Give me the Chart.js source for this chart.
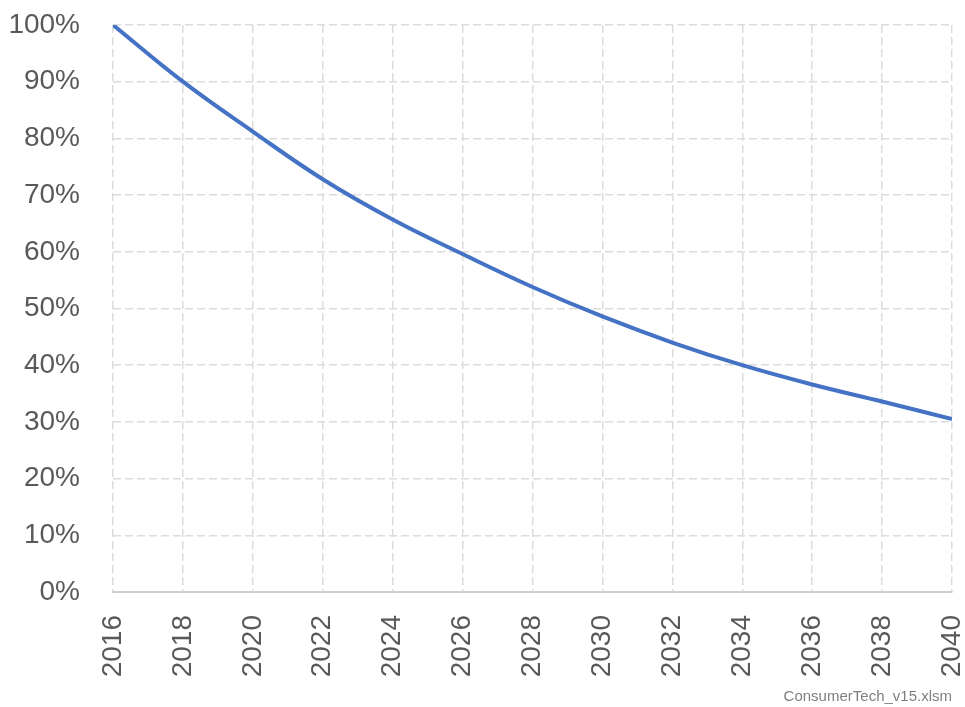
<!DOCTYPE html>
<html>
<head>
<meta charset="utf-8">
<script src="https://cdn.jsdelivr.net/npm/chart.js@4/dist/chart.umd.min.js"></script>
<style>
  html, body { margin: 0; padding: 0; background: #ffffff; }
  #wrap { position: relative; width: 965px; height: 707px; }
  #note { position: absolute; right: 13px; top: 687px; font-family: "Liberation Sans", Arial, sans-serif; font-size: 15px; color: #7f7f7f; }
</style>
</head>
<body>
<div id="wrap">
  <canvas id="c" width="965" height="707"></canvas>
  <div id="note">ConsumerTech_v15.xlsm</div>
</div>
<script>
const years = [2016, 2018, 2020, 2022, 2024, 2026, 2028, 2030, 2032, 2034, 2036, 2038, 2040];
const shareValues = [100, 90.0, 81.2, 72.8, 65.7, 59.6, 53.8, 48.6, 44.0, 40.0, 36.6, 33.6, 30.5];
const yTickValues = [0, 10, 20, 30, 40, 50, 60, 70, 80, 90, 100];

const points = years.map((y, i) => ({ x: y, y: shareValues[i] }));

const zeroPad = (s) => { s.paddingLeft = 0; s.paddingRight = 0; s.paddingTop = 0; s.paddingBottom = 0; };

new Chart(document.getElementById('c'), {
  type: 'line',
  data: {
    datasets: [{
      data: points,
      borderColor: '#4472C4',
      borderWidth: 4,
      pointRadius: 0,
      fill: false,
      tension: 0.4
    }]
  },
  options: {
    responsive: false,
    animation: false,
    devicePixelRatio: 1,
    layout: { padding: { left: 0, right: 13, top: 25, bottom: 0 } },
    plugins: { legend: { display: false }, tooltip: { enabled: false } },
    scales: {
      x: {
        type: 'linear',
        min: years[0],
        max: years[years.length - 1],
        afterBuildTicks: (s) => { s.ticks = years.map(v => ({ value: v })); },
        afterFit: (s) => { s.height = 115; zeroPad(s); },
        grid: { color: '#dcdcdc', lineWidth: 1.5, drawTicks: false },
        border: { display: true, color: '#d0d0d0', width: 2, dash: [8, 4] },
        ticks: {
          minRotation: 90, maxRotation: 90, padding: 23,
          color: '#595959',
          font: { family: '"Liberation Sans", Arial, sans-serif', size: 28 },
          callback: (v) => String(v)
        }
      },
      y: {
        min: 0, max: 100,
        afterBuildTicks: (s) => { s.ticks = yTickValues.map(v => ({ value: v })); },
        afterFit: (s) => { s.width = 113; zeroPad(s); },
        grid: { color: '#dcdcdc', lineWidth: 1.5, drawTicks: false },
        border: { display: false, dash: [8, 4] },
        ticks: {
          padding: 33,
          color: '#595959',
          font: { family: '"Liberation Sans", Arial, sans-serif', size: 28 },
          callback: (v) => v + '%'
        }
      }
    }
  }
});
</script>
</body>
</html>
